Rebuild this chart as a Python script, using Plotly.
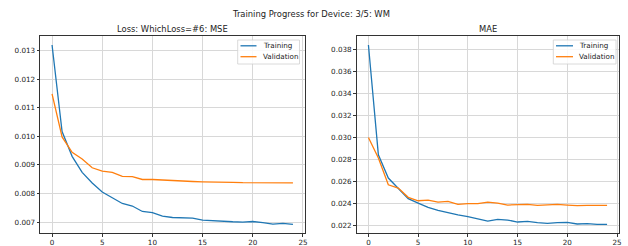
import plotly.graph_objects as go

# ---- data ----
epochs = list(range(25))
mse_train = [0.01320, 0.01017, 0.00930, 0.00874, 0.00837, 0.00805, 0.00785, 0.00765,
             0.00756, 0.00737, 0.00733, 0.00721, 0.00716, 0.00714, 0.00714, 0.00707,
             0.00705, 0.00701, 0.00701, 0.00700, 0.00702, 0.00698, 0.00693, 0.00695, 0.00692]
mse_val = [0.01149, 0.00998, 0.00944, 0.00921, 0.00890, 0.00878, 0.00874, 0.00860,
           0.00859, 0.00849, 0.00849, 0.00847, 0.00844, 0.00842, 0.00842, 0.00841,
           0.00841, 0.00840, 0.00839, 0.00838, 0.00838, 0.00837, 0.00837, 0.00837, 0.00837]
mae_train = [0.03839, 0.02843, 0.02632, 0.02542, 0.02445, 0.02405, 0.02366, 0.02339,
             0.02315, 0.02297, 0.02282, 0.02260, 0.02242, 0.02257, 0.02251, 0.02233,
             0.02239, 0.02227, 0.02221, 0.02227, 0.02230, 0.02215, 0.02218, 0.02212, 0.02212]
mae_val = [0.03000, 0.02813, 0.02571, 0.02541, 0.02457, 0.02426, 0.02432, 0.02414,
           0.02420, 0.02393, 0.02399, 0.02399, 0.02414, 0.02405, 0.02387, 0.02393,
           0.02393, 0.02384, 0.02390, 0.02393, 0.02387, 0.02381, 0.02384, 0.02384, 0.02384]

suptitle = "Training Progress for Device: 3/5: WM"
titles = ["Loss: WhichLoss=#6: MSE", "MAE"]
series_names = ["Training", "Validation"]
x_ticks = [0, 5, 10, 15, 20, 25]
mse_ticks = [0.007, 0.008, 0.009, 0.010, 0.011, 0.012, 0.013]
mae_ticks = [0.022, 0.024, 0.026, 0.028, 0.030, 0.032, 0.034, 0.036, 0.038]

W, H = 628, 246
BLUE, ORANGE = "#1f77b4", "#ff7f0e"
FONT = "DejaVu Sans"

def px(x):
    return x / W

def py(y):
    return 1 - y / H

fig = go.Figure()
fig.add_trace(go.Scatter(x=epochs, y=mse_train, mode="lines", line=dict(color=BLUE, width=1.3),
                         name=series_names[0], xaxis="x", yaxis="y"))
fig.add_trace(go.Scatter(x=epochs, y=mse_val, mode="lines", line=dict(color=ORANGE, width=1.3),
                         name=series_names[1], xaxis="x", yaxis="y"))
fig.add_trace(go.Scatter(x=epochs, y=mae_train, mode="lines", line=dict(color=BLUE, width=1.3),
                         name=series_names[0], xaxis="x2", yaxis="y2"))
fig.add_trace(go.Scatter(x=epochs, y=mae_val, mode="lines", line=dict(color=ORANGE, width=1.3),
                         name=series_names[1], xaxis="x2", yaxis="y2"))

def yrange(a, b):
    lo = min(min(a), min(b)); hi = max(max(a), max(b))
    m = (hi - lo) * 0.05
    return [lo - m, hi + m]

axis_common = dict(showgrid=True, gridcolor="#d8d8d8", gridwidth=1, zeroline=False,
                   showline=True, linecolor="#333", linewidth=0.8, mirror=True,
                   ticks="outside", ticklen=2.5, tickwidth=0.8, tickcolor="#333",
                   tickfont=dict(family=FONT, size=7.2, color="#222"), automargin=False)

ydom = [py(233.3), py(36)]
fig.update_layout(
    width=W, height=H, margin=dict(l=0, r=0, t=0, b=0),
    paper_bgcolor="white", plot_bgcolor="white", showlegend=False,
    font=dict(family=FONT, color="#222"),
    xaxis=dict(domain=[px(40), px(305)], range=[-1.2, 25.2], tickvals=x_ticks, anchor="y", **axis_common),
    yaxis=dict(domain=ydom, range=yrange(mse_train, mse_val), tickvals=mse_ticks, tickformat=".3f",
               anchor="x", **axis_common),
    xaxis2=dict(domain=[px(356.5), px(619)], range=[-1.2, 25.2], tickvals=x_ticks, anchor="y2", **axis_common),
    yaxis2=dict(domain=ydom, range=yrange(mae_train, mae_val), tickvals=mae_ticks, tickformat=".3f",
                anchor="x2", **axis_common),
)

ann = [dict(text=suptitle, x=px(311), y=py(14.3), xref="paper", yref="paper", showarrow=False,
            xanchor="center", yanchor="middle", font=dict(family=FONT, size=8.4, color="#222")),
       dict(text=titles[0], x=px(172.5), y=py(29.3), xref="paper", yref="paper", showarrow=False,
            xanchor="center", yanchor="middle", font=dict(family=FONT, size=8.4, color="#222")),
       dict(text=titles[1], x=px(488), y=py(29.3), xref="paper", yref="paper", showarrow=False,
            xanchor="center", yanchor="middle", font=dict(family=FONT, size=8.4, color="#222"))]

shapes = []
# manual matplotlib-style legends
for (bx0, bx1, lx0, lx1, tx) in [(237.7, 299.5, 240.5, 256.5, 261), (553.3, 616, 556, 573, 577)]:
    shapes.append(dict(type="rect", xref="paper", yref="paper", x0=px(bx0), x1=px(bx1),
                       y0=py(64), y1=py(40), line=dict(color="#d0d0d0", width=0.8),
                       fillcolor="rgba(255,255,255,0.85)", layer="above"))
    for name, col, yy in [(series_names[0], BLUE, 45.8), (series_names[1], ORANGE, 56.7)]:
        shapes.append(dict(type="line", xref="paper", yref="paper", x0=px(lx0), x1=px(lx1),
                           y0=py(yy), y1=py(yy), line=dict(color=col, width=1.3), layer="above"))
        ann.append(dict(text=name, x=px(tx), y=py(yy), xref="paper", yref="paper", showarrow=False,
                        xanchor="left", yanchor="middle", font=dict(family=FONT, size=7.2, color="#222")))

fig.update_layout(annotations=ann, shapes=shapes)
fig.write_html("out.html", config={"displayModeBar": False},
               post_script="document.body.style.margin='0';document.body.style.overflow='hidden';")
